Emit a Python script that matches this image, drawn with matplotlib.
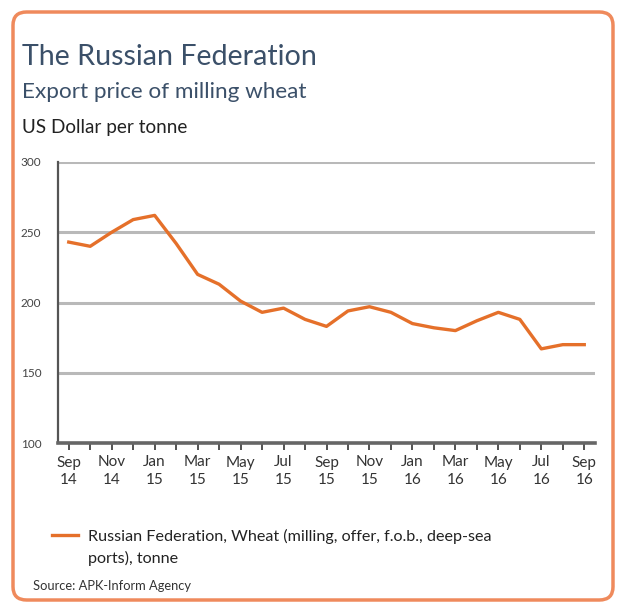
import matplotlib.pyplot as plt
from matplotlib.patches import FancyBboxPatch
from matplotlib.lines import Line2D

# Monthly export price, Sep 2014 - Sep 2016
months = ["Sep", "Oct", "Nov", "Dec", "Jan", "Feb", "Mar", "Apr", "May", "Jun", "Jul", "Aug",
          "Sep", "Oct", "Nov", "Dec", "Jan", "Feb", "Mar", "Apr", "May", "Jun", "Jul", "Aug", "Sep"]
years = ["14", "14", "14", "14", "15", "15", "15", "15", "15", "15", "15", "15",
         "15", "15", "15", "15", "16", "16", "16", "16", "16", "16", "16", "16", "16"]
price = [243, 240, 250, 259, 262, 242, 220, 213, 201, 193, 196, 188,
         183, 194, 197, 193, 185, 182, 180, 187, 193, 188, 167, 170, 170]
yticks = [100, 150, 200, 250, 300]

W, H = 620, 604
plt.rcParams['font.family'] = ['Lato', 'DejaVu Sans']

fig = plt.figure(figsize=(W / 100, H / 100), dpi=100)
fig.patch.set_facecolor("white")

def fx(px):
    return px / W

def fy(py):
    return 1 - py / H

# rounded orange frame
frame = FancyBboxPatch((fx(13), fy(600)), fx(600), 588 / H,
                       boxstyle="round,pad=0,rounding_size=0.022",
                       transform=fig.transFigure, facecolor="white",
                       edgecolor="#ef8a5c", linewidth=2.5, zorder=0)
fig.add_artist(frame)

title_col = "#3b5069"
fig.text(fx(22), fy(65), "The Russian Federation", fontsize=20.6, color=title_col, va="baseline")
fig.text(fx(22), fy(98), "Export price of milling wheat", fontsize=16.2, color=title_col, va="baseline")
fig.text(fx(22), fy(133), "US Dollar per tonne", fontsize=13.6, color="#222222", va="baseline")

ax = fig.add_axes([fx(58), fy(443), fx(595) - fx(58), (443 - 162) / H])
x = list(range(len(price)))
ax.plot(x, price, color="#e5702a", linewidth=2.4, solid_joinstyle="round", zorder=3)

ax.set_xlim(-0.5, 24.5)
ax.set_ylim(100, 300)
ax.set_yticks(yticks)
ax.set_yticklabels([str(v) for v in yticks], fontsize=8.5, color="#444444")
for v in yticks[1:]:
    ax.axhline(v, color="#b9b9b9", linewidth=2.2, zorder=1)

ax.set_xticks(x[::2])
ax.set_xticklabels([f"{m}\n{y}" for m, y in zip(months[::2], years[::2])],
                   fontsize=11, color="#333333", linespacing=1.3)
ax.set_xticks(x[1::2], minor=True)
ax.tick_params(axis="x", which="both", direction="out", length=5, width=1.3,
               color="#444444", pad=4)
ax.tick_params(axis="y", length=0, pad=12)

for s in ["top", "right"]:
    ax.spines[s].set_visible(False)
ax.spines["left"].set_color("#555555")
ax.spines["left"].set_linewidth(1.6)
ax.spines["bottom"].set_color("#666666")
ax.spines["bottom"].set_linewidth(2.6)
ax.patch.set_alpha(0)

# legend
fig.add_artist(Line2D([fx(52), fx(78)], [fy(535), fy(535)], transform=fig.transFigure,
                      color="#e5702a", linewidth=2.4))
fig.text(fx(88), fy(541), "Russian Federation, Wheat (milling, offer, f.o.b., deep-sea",
         fontsize=11.6, color="#222222", va="baseline")
fig.text(fx(88), fy(563), "ports), tonne", fontsize=11.6, color="#222222", va="baseline")
fig.text(fx(33), fy(590), "Source: APK-Inform Agency", fontsize=9.3, color="#333333", va="baseline")

fig.savefig("out.png", dpi=100, facecolor="white")
